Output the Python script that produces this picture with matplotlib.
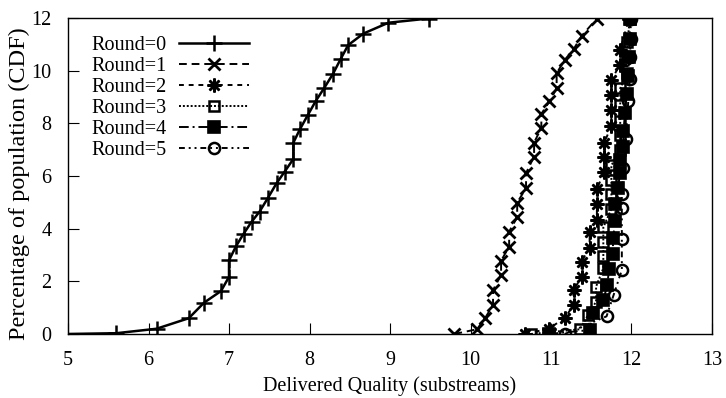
import matplotlib
matplotlib.use('Agg')
from matplotlib import pyplot as plt

plt.rcParams['font.family'] = ['Liberation Serif', 'DejaVu Serif']

labels = ['Round=0', 'Round=1', 'Round=2', 'Round=3', 'Round=4', 'Round=5']

x0 = [4.98, 5.6, 6.1, 6.5, 6.69, 6.9, 7.0, 7.0, 7.09, 7.18, 7.28, 7.38, 7.48, 7.59, 7.69, 7.8, 7.8,
      7.88, 7.98, 8.08, 8.18, 8.29, 8.39, 8.48, 8.67, 8.98, 9.48]
y0 = [0.0, 0.03, 0.2, 0.6, 1.19, 1.63, 2.17, 2.8, 3.35, 3.8, 4.26, 4.65, 5.15, 5.72, 6.16, 6.65, 7.27,
      7.77, 8.32, 8.86, 9.33, 9.87, 10.46, 10.97, 11.41, 11.82, 11.98]

x1 = [9.8, 10.08, 10.18, 10.28, 10.28, 10.38, 10.38, 10.48, 10.48, 10.58, 10.58, 10.69, 10.69, 10.79,
      10.79, 10.88, 10.88, 10.98, 11.07, 11.07, 11.17, 11.28, 11.38, 11.57]
y1 = [0.0, 0.18, 0.6, 1.1, 1.67, 2.24, 2.78, 3.32, 3.89, 4.43, 4.99, 5.54, 6.11, 6.74, 7.27, 7.82, 8.36,
      8.83, 9.33, 9.9, 10.41, 10.81, 11.32, 11.98]

x2 = [10.68, 10.97, 11.17, 11.28, 11.28, 11.38, 11.38, 11.48, 11.48, 11.57, 11.57, 11.57, 11.66, 11.66,
      11.66, 11.75, 11.75, 11.75, 11.75, 11.86, 11.86, 11.97]
y2 = [0.0, 0.2, 0.6, 1.1, 1.67, 2.17, 2.75, 3.28, 3.88, 4.33, 4.93, 5.5, 6.16, 6.72, 7.26, 7.89, 8.52,
      9.09, 9.66, 10.23, 10.8, 11.98]

x3 = [10.75, 11.36, 11.46, 11.56, 11.56, 11.65, 11.65, 11.65, 11.65, 11.75, 11.75, 11.75, 11.75, 11.86,
      11.86, 11.86, 11.86, 11.86, 11.95, 11.95, 11.95, 11.98]
y3 = [0.0, 0.18, 0.72, 1.23, 1.8, 2.5, 2.98, 3.5, 4.05, 4.75, 5.3, 5.85, 6.4, 7.0, 7.55, 8.1, 8.7, 9.33,
      9.9, 10.5, 11.1, 11.98]

x4 = [10.97, 11.48, 11.52, 11.65, 11.7, 11.72, 11.77, 11.77, 11.8, 11.8, 11.83, 11.86, 11.86, 11.9, 11.9,
      11.92, 11.94, 11.96, 11.97, 11.98, 11.98]
y4 = [0.0, 0.15, 0.8, 1.3, 1.85, 2.45, 3.05, 3.65, 4.3, 4.95, 5.55, 6.1, 6.6, 7.1, 7.7, 8.4, 9.1, 9.8,
      10.5, 11.2, 11.98]

x5 = [11.17, 11.69, 11.78, 11.88, 11.88, 11.88, 11.88, 11.9, 11.93, 11.96, 11.98, 11.98, 11.99, 11.99]
y5 = [0.0, 0.67, 1.5, 2.43, 3.6, 4.77, 5.3, 6.3, 7.4, 8.85, 9.7, 10.5, 11.2, 11.98]

xs = [x0, x1, x2, x3, x4, x5]
ys = [y0, y1, y2, y3, y4, y5]
styles = [
    dict(ls='-', marker='+', ms=11, mew=1.8, lw=1.8),
    dict(ls=(0, (4, 2.5)), marker='x', ms=9, mew=2.0, lw=1.4),
    dict(ls=(0, (2.5, 2.5)), marker=(8, 2, 0), ms=10, mew=1.8, lw=1.4),
    dict(ls=(0, (1, 1)), marker='s', ms=7.5, mew=1.8, lw=1.4, fillstyle='none'),
    dict(ls=(0, (5, 2, 1, 2)), marker='s', ms=8, mew=1.2, lw=1.4),
    dict(ls=(0, (3, 2, 1, 2, 1, 2)), marker='o', ms=8, mew=1.8, lw=1.4, fillstyle='none'),
]

fig = plt.figure(figsize=(7.26, 3.98), dpi=100)
ax = fig.add_axes([0.0937, 0.1608, 0.887, 0.794])
for x, y, lab, st in zip(xs, ys, labels, styles):
    ax.plot(x, y, color='black', label=lab, **st)

ax.set_xlim(5, 13)
ax.set_ylim(0, 12)
ax.set_xticks(range(5, 14))
ax.set_yticks(range(0, 13, 2))
ax.tick_params(direction='in', length=8, width=0.8, labelsize=14.5, pad=12)
for s in ax.spines.values():
    s.set_linewidth(1.0)
ax.set_xlabel('Delivered Quality (substreams)', fontsize=14.5, labelpad=4.5)
ax.set_ylabel('Percentage of population (CDF)', fontsize=17.5)
ax.yaxis.set_label_coords(-0.059, 0.475)
ax.legend(loc='upper left', bbox_to_anchor=(0.126, 0.91), bbox_transform=fig.transFigure,
          frameon=False, markerfirst=False, fontsize=14.5, handlelength=3.5,
          handletextpad=0.6, labelspacing=0.1, borderpad=0, borderaxespad=0)

fig.savefig('out.png', dpi=100)
